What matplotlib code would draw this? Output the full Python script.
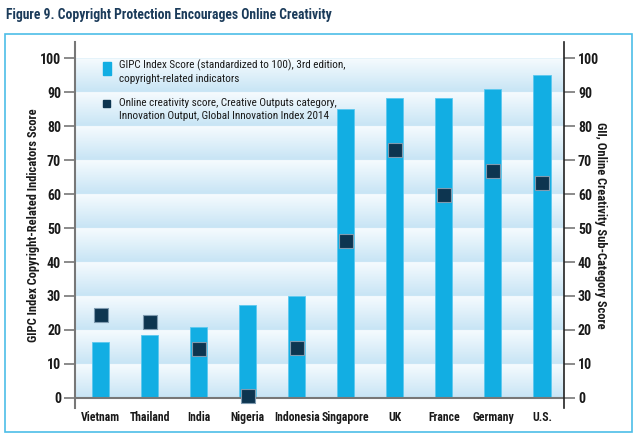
import numpy as np
import matplotlib.pyplot as plt
from matplotlib.patches import Rectangle

plt.rcParams['font.family'] = ['Roboto Condensed', 'DejaVu Sans']

# Datos
paises = ["Vietnam", "Thailand", "India", "Nigeria", "Indonesia",
          "Singapore", "UK", "France", "Germany", "U.S."]
gipc = [16.3, 18.5, 21.0, 27.2, 29.9, 85.0, 88.2, 88.4, 91.0, 95.0]
gii = [24.4, 22.2, 14.4, 0.6, 14.6, 46.3, 72.9, 59.6, 66.7, 63.3]
ticks_y = [0, 10, 20, 30, 40, 50, 60, 70, 80, 90, 100]

azul_barra = '#12aee3'
azul_osc = '#0d3550'
texto = '#1a1a1a'

fig = plt.figure(figsize=(6.4, 4.38), dpi=100)

# Marco azul claro
fig.patches.append(Rectangle((5 / 640, 1 - 432 / 438), 627 / 640, 398 / 438,
                             transform=fig.transFigure, fill=False,
                             edgecolor='#4dbde8', linewidth=1.2))
fig.text(6 / 640, 1 - 15 / 438, "Figure 9. Copyright Protection Encourages Online Creativity",
         fontsize=9.8, fontweight='bold', color='#1b3b5a', va='center', ha='left')

ax = fig.add_axes([75 / 640, 1 - 408 / 438, 489 / 640, 366 / 438])
x = np.arange(len(paises))
ax.set_xlim(-0.52, 9.45)
ax.set_ylim(-3.0, 104.8)

# Fondo con bandas degradadas
yy = np.linspace(0, 100, 1000)
grad = 1 - (yy % 10) / 10
img = np.zeros((len(yy), 1, 3))
c_top = np.array([0.965, 0.985, 0.997])
c_bot = np.array([0.78, 0.895, 0.96])
for i, g in enumerate(grad):
    img[i, 0] = c_top * (1 - g) + c_bot * g
ax.imshow(img, extent=(-0.52, 9.45, 0, 100), origin='lower', aspect='auto', zorder=0)

ax.bar(x, gipc, width=0.35, color=azul_barra, edgecolor='#5cc8ef', linewidth=0.6, zorder=2)
ax.axhline(0, color='#777777', linewidth=1.5, zorder=3)

ax2 = ax.twinx()
ax2.set_ylim(-3.0, 104.8)
ax2.scatter(x, gii, marker='s', s=88, color=azul_osc, edgecolor='#7f9bb0',
            linewidth=0.8, zorder=5, clip_on=False)

for a in (ax, ax2):
    a.spines['top'].set_visible(False)
    a.spines['bottom'].set_visible(False)
    a.set_yticks(ticks_y)
    a.tick_params(axis='y', length=8, width=1.2, color='#777777', labelsize=10,
                  labelcolor=texto, pad=2)
    for lab in a.get_yticklabels():
        lab.set_fontweight('bold')

ax.spines['left'].set_color('#777777')
ax.spines['left'].set_linewidth(1.5)
ax.spines['right'].set_visible(False)
ax2.spines['left'].set_visible(False)
ax2.spines['right'].set_color('#222222')
ax2.spines['right'].set_linewidth(1.2)

ax.set_xticks(x)
ax.set_xticklabels(paises, fontsize=8.5, fontweight='bold', color=texto)
ax.tick_params(axis='x', length=0, pad=2)

ax.set_ylabel("GIPC Index Copyright-Related Indicators Score", fontsize=9,
              fontweight='bold', color=texto, labelpad=0)
ax2.set_ylabel("GII, Online Creativity Sub-Category Score", fontsize=9,
               fontweight='bold', color=texto, rotation=270, labelpad=6)

# Leyenda manual
ax.add_patch(Rectangle((0.137 - 0.082, 97.05 - 1.92), 0.163, 3.83,
                       color=azul_barra, zorder=6))
ax.text(0.367, 96.0, "GIPC Index Score (standardized to 100), 3rd edition,\ncopyright-related indicators",
        fontsize=8, color=texto, va='center', ha='left', linespacing=1.45, zorder=6)
ax.add_patch(Rectangle((0.13 - 0.072, 86.8 - 1.03), 0.143, 2.06,
                       color=azul_osc, zorder=6))
ax.text(0.367, 84.9, "Online creativity score, Creative Outputs category,\nInnovation Output, Global Innovation Index 2014",
        fontsize=8, color=texto, va='center', ha='left', linespacing=1.45, zorder=6)

plt.savefig("out.png", dpi=100)
